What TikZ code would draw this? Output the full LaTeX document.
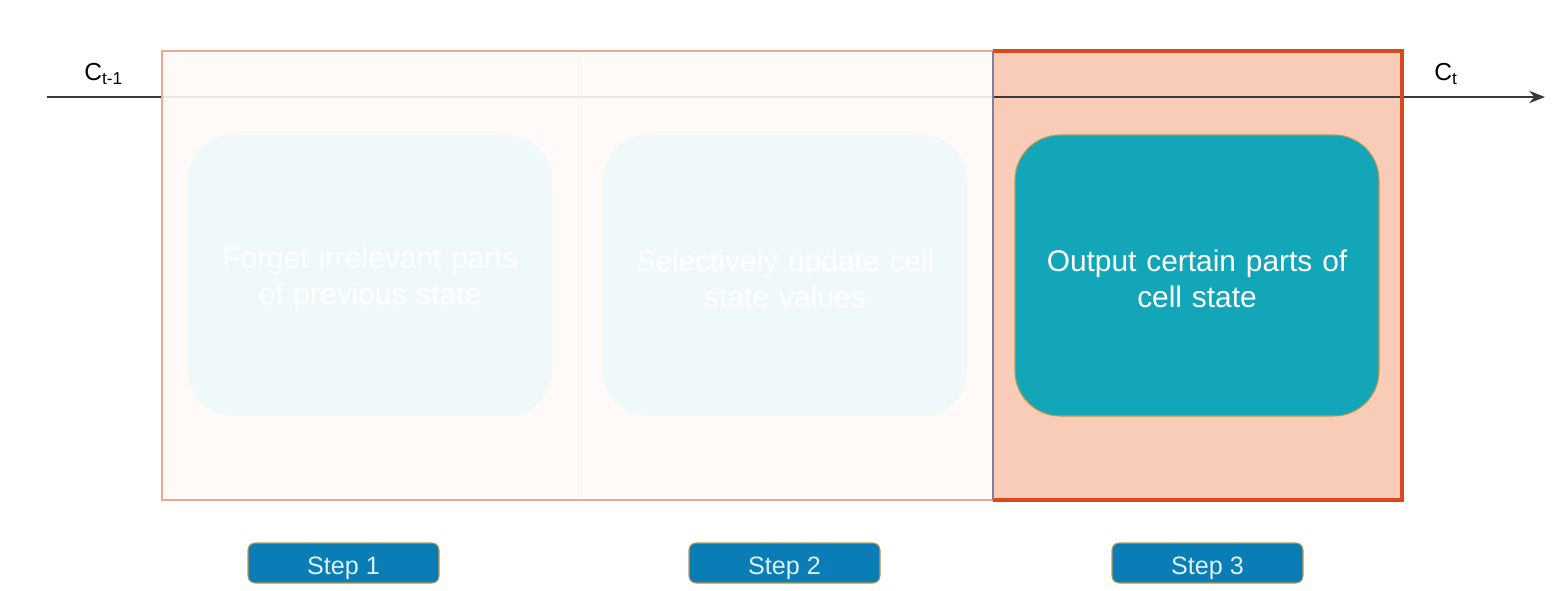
\documentclass[tikz,border=0pt]{standalone}
\usepackage{fontspec}
\setmainfont{Liberation Sans}
\usetikzlibrary{arrows.meta}
\definecolor{fadefill}{HTML}{FFFAF8}
\definecolor{fadeborder}{HTML}{EDA893}
\definecolor{activefill}{HTML}{F8CCB6}
\definecolor{activeborder}{HTML}{D9491F}
\definecolor{divider}{HTML}{7C7F9E}
\definecolor{fadebox}{HTML}{EFF9FA}
\definecolor{teal}{HTML}{13A5B8}
\definecolor{gold}{HTML}{C09A4E}
\definecolor{stepblue}{HTML}{0A7DB6}
\definecolor{steptext}{HTML}{DDF2FA}
\definecolor{linedark}{HTML}{3A3A3A}
\definecolor{linefade}{HTML}{EEE6E3}
\newcommand{\boxstrut}{\rule{0pt}{16pt}}
\tikzset{
  cellbox/.style={rounded corners=45*0.02cm, minimum width=364*0.02cm, minimum height=281*0.02cm,
    align=center, text width=330*0.02cm, font=\fontsize{17}{20.4}\selectfont, inner sep=0pt},
  fadedbox/.style={cellbox, fill=fadebox, text=white},
  activebox/.style={cellbox, fill=teal, draw=gold, line width=0.6pt, text=white},
  stepbox/.style={rounded corners=4pt, minimum width=191*0.02cm, minimum height=40*0.02cm,
    fill=stepblue, draw=gold, line width=0.6pt, text=steptext, inner sep=0pt,
    text height=13.5pt, text depth=0pt,
    font=\fontsize{14.3}{17}\selectfont},
  statelabel/.style={font=\fontsize{14}{17}\selectfont, text=black, inner sep=0pt}
}
\begin{document}
\begin{tikzpicture}[x=0.02cm,y=-0.02cm]
\useasboundingbox (0,0) rectangle (1562,591);
% section fills
\fill[fadefill] (162,51) rectangle (993,500);
\fill[activefill] (993,51) rectangle (1402,500);
\draw[line width=0.5pt, color=fadefill!92!black!40!white] (578,52) -- (578,499);
% cell state line
\coordinate (cin) at (47,97);
\coordinate (lft) at (162,97);
\coordinate (mid) at (993,97);
\coordinate (cout) at (1545,97);
\draw[linedark, line width=1.2pt] (cin) -- (lft);
\draw[linefade, line width=1.2pt] (lft) -- (mid);
\draw[linedark, line width=1.2pt, -{Stealth[length=9pt,width=7pt]}] (mid) -- (cout);
% borders
\draw[fadeborder, line width=1.2pt] (993,51) -- (162,51) -- (162,500) -- (993,500);
\draw[activeborder, line width=1.8pt] (993,51) -- (1402,51) -- (1402,500) -- (993,500);
\draw[divider, line width=1.2pt] (993,51) -- (993,500);
% labels
\node[statelabel, anchor=base west] (cprev) at (84,81) {C\textsubscript{t-1}};
\node[statelabel, anchor=base west] (cnext) at (1434,81) {C\textsubscript{t}};
% boxes
\node[fadedbox] (forget) at (370,275.5) {\boxstrut Forget irrelevant parts\\of previous state};
\node[fadedbox] (update) at (785,275.5) {\boxstrut Selectively update cell\\state values};
\node[activebox] (output) at (1197,275.5) {\boxstrut Output certain parts of\\cell state};
% steps
\node[stepbox] (s1) at (343.5,563) {Step 1};
\node[stepbox] (s2) at (784.5,563) {Step 2};
\node[stepbox] (s3) at (1207.5,563) {Step 3};
\end{tikzpicture}
\end{document}
